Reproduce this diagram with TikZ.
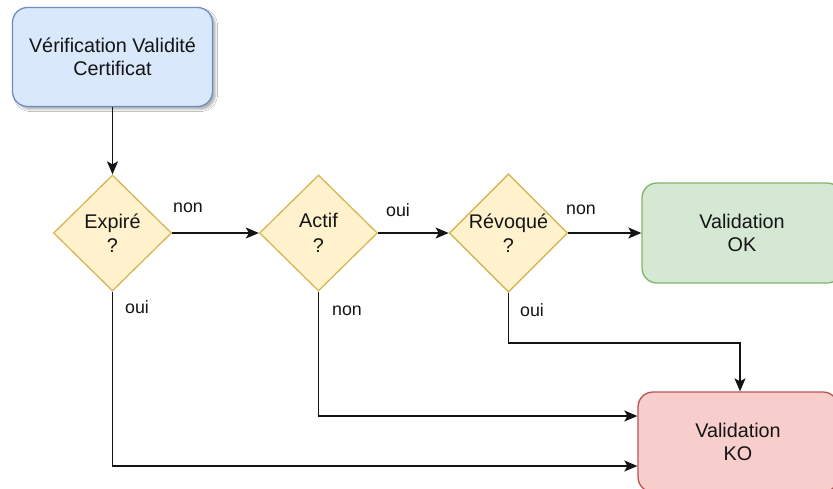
\documentclass[tikz,border=0pt]{standalone}
\usepackage{fontspec}
\setmainfont{Liberation Sans}
\usetikzlibrary{shapes.geometric,arrows.meta,shadows.blur}

\definecolor{blueFill}{HTML}{DAE8FC}
\definecolor{blueLine}{HTML}{6C8EBF}
\definecolor{yellowFill}{HTML}{FFF2CC}
\definecolor{yellowLine}{HTML}{D6B656}
\definecolor{greenFill}{HTML}{D5E8D4}
\definecolor{greenLine}{HTML}{82B366}
\definecolor{redFill}{HTML}{F8CECC}
\definecolor{redLine}{HTML}{B85450}
\definecolor{ink}{HTML}{141414}

\tikzset{
  x=1pt, y=-1pt,
  box/.style={rectangle, rounded corners=15pt, line width=1.3pt,
    minimum width=200pt, minimum height=100pt, align=center,
    text=ink, font=\fontsize{19.8}{23}\selectfont},
  decision/.style={diamond, draw=yellowLine, fill=yellowFill, line width=1.3pt,
    minimum width=118pt, minimum height=116pt, inner sep=0pt, align=center,
    text=ink, font=\fontsize{19.8}{24.5}\selectfont},
  link/.style={draw=ink, line width=1.3pt,
    -{Stealth[length=13pt,width=11pt,inset=3pt]}},
  tag/.style={text=ink, font=\fontsize{17.8}{20}\selectfont, inner sep=0pt}
}

\begin{document}
\begin{tikzpicture}
  \useasboundingbox (0,0) rectangle (833,488);
  \clip (0,0) rectangle (833,488);
  \fill[white] (0,0) rectangle (833,488);

  % start box and decisions
  \node[box, draw=blueLine, fill=blueFill,
        blur shadow={shadow xshift=3pt, shadow yshift=-3pt, shadow blur radius=2pt, shadow opacity=30},
        minimum height=99pt] (start) at (112.5,57) {Vérification Validité\\Certificat};
  \node[decision] (exp) at (112.5,233) {Expiré\\?};
  \node[decision] (act) at (318.5,233) {Actif\\?};
  \node[decision] (rev) at (508.5,233) {Révoqué\\?};

  % outcomes
  \node[box, draw=greenLine, fill=greenFill] (ok) at (742,233) {Validation\\OK};
  \node[box, draw=redLine, fill=redFill] (ko) at (738,442) {Validation\\KO};

  % connectors
  \draw[link] (start) -- (exp);
  \draw[link] (exp) -- (act);
  \draw[link] (act) -- (rev);
  \draw[link] (rev) -- (ok);
  \draw[link] (exp.south) |- ([yshift=-24pt]ko.west);
  \draw[link] (act.south) |- ([yshift=26pt]ko.west);
  \draw[link] (rev.south) -- (rev.south |- 0,343) -| ([xshift=2pt]ko.north);

  % branch labels
  \node[tag] (l1) at (188,208) {non};
  \node[tag] (l2) at (137,307) {oui};
  \node[tag] (l3) at (398,210) {oui};
  \node[tag] (l4) at (347,311) {non};
  \node[tag] (l5) at (581,210) {non};
  \node[tag] (l6) at (532,310) {oui};
\end{tikzpicture}
\end{document}
